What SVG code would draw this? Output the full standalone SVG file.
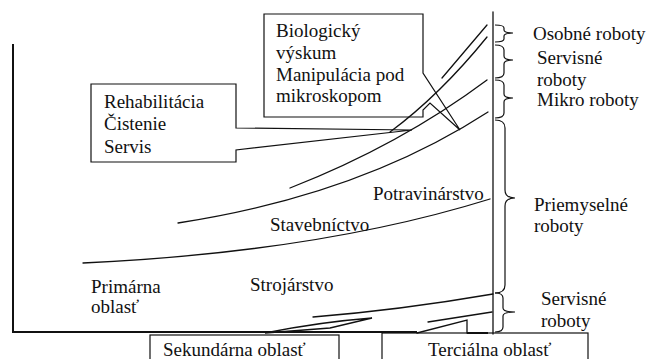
<svg xmlns="http://www.w3.org/2000/svg" width="649" height="359" viewBox="0 0 649 359">
<style>
text{font-family:'Liberation Serif','Times New Roman','DejaVu Serif',serif;font-size:19px;fill:#111}
.ln{fill:none;stroke:#111;stroke-width:1.3;stroke-linecap:round;stroke-linejoin:miter}
.ax{fill:none;stroke:#111;stroke-width:2}
.box{fill:none;stroke:#111;stroke-width:1.2}
.br{fill:none;stroke:#111;stroke-width:1.2}
</style>
<rect width="649" height="359" fill="#fff"/>
<g id="axes">
<path class="ax" d="M13,44 L13,332 L417,332"/>
<path class="ln" d="M493,12 L493,334"/>
<path class="ax" d="M467,333 L488,333"/>
</g>
<g id="connectors">
<path class="ln" d="M442,78 L487,25"/>
<path class="ln" d="M390,132 Q440,95 487,37"/>
<path class="ln" d="M290,188 Q400,145 487,80"/>
<path class="ln" d="M178,223 Q360,195 488,112"/>
<path class="ln" d="M83,263 Q320,252 490,199"/>
<path class="ln" d="M313,317 Q400,310 493,294"/>
<path class="ln" d="M265,333 Q320,322 372,318 L330,328 Z" fill="#111"/>
<path class="ln" d="M428,322 L492,312"/>
<path class="ln" d="M417,333 L467,320 L467,333"/>
</g>
<g id="braces">
<path class="br" d="M495,25 Q504,25 504,28 L504,30 Q504,33 513,33 Q504,33 504,36 L504,39 Q504,42 495,42"/>
<path class="br" d="M495,45 Q504,45 504,50 L504,56 Q504,60 513,60 Q504,60 504,64 L504,73 Q504,78 495,78"/>
<path class="br" d="M495,80 Q504,80 504,85 L504,94 Q504,98 513,98 Q504,98 504,102 L504,113 Q504,118 495,118"/>
<path class="br" d="M495,120 Q505,120 505,128 L505,190 Q505,198 515,198 Q505,198 505,206 L505,285 Q505,293 495,293"/>
<path class="br" d="M495,293 Q503,293 503,298 L503,308 Q503,312 515,312 Q503,312 503,316 L503,327 Q503,332 495,332"/>
</g>
<g id="bio">
<path class="box" d="M423,73 L423,14 L264,14 L264,117 L423,117 L423,110 L430,103 L460,130 Z"/>
<text x="276" y="37">Biologický</text>
<text x="276" y="59">výskum</text>
<text x="276" y="81">Manipulácia pod</text>
<text x="276" y="102">mikroskopom</text>
</g>
<g id="rehab">
<path class="box" d="M236,128 L412,130 L236,150 L236,162 L91,162 L91,84 L236,84 Z"/>
<text x="104" y="108">Rehabilitácia</text>
<text x="104" y="130">Čistenie</text>
<text x="104" y="153">Servis</text>
</g>
<g id="osobne"><text x="533" y="40">Osobné roboty</text></g>
<g id="servisne-top"><text x="537" y="64">Servisné</text><text x="537" y="86">roboty</text></g>
<g id="mikro"><text x="537" y="106">Mikro roboty</text></g>
<g id="priemyselne"><text x="534" y="211">Priemyselné</text><text x="534" y="232">roboty</text></g>
<g id="servisne-bottom"><text x="541" y="305">Servisné</text><text x="541" y="327">roboty</text></g>
<g id="potravinarstvo"><text x="373" y="200">Potravinárstvo</text></g>
<g id="stavebnictvo"><text x="270" y="231">Stavebníctvo</text></g>
<g id="strojarstvo"><text x="250" y="291">Strojárstvo</text></g>
<g id="primarna"><text x="91" y="293">Primárna</text><text x="91" y="313">oblasť</text></g>
<g id="sekundarna">
<rect class="box" x="150" y="335" width="189" height="40"/>
<text x="163" y="356">Sekundárna oblasť</text>
</g>
<g id="tercialna">
<rect class="box" x="382" y="333" width="206" height="40"/>
<text x="428" y="356">Terciálna oblasť</text>
</g>
</svg>
